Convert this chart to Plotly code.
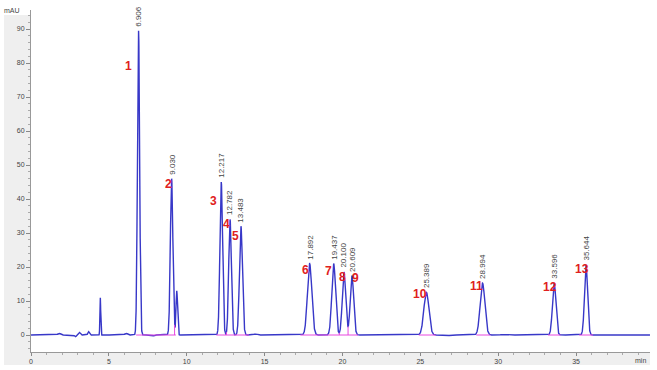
import numpy as np
import plotly.graph_objects as go

# Labelled peaks (retention time, height mAU, width sigma min)
peak_rt = [6.906, 9.030, 12.217, 12.782, 13.483, 17.892, 19.437, 20.100, 20.609, 25.389, 28.994, 33.596, 35.644]
peak_h = [89.5, 46.0, 45.0, 34.0, 32.0, 21.0, 21.0, 18.5, 17.5, 12.6, 15.3, 15.3, 20.6]
peak_w = [0.07, 0.08, 0.085, 0.085, 0.095, 0.14, 0.12, 0.11, 0.11, 0.16, 0.15, 0.11, 0.1]
peak_num = ["1", "2", "3", "4", "5", "6", "7", "8", "9", "10", "11", "12", "13"]
# position of red peak numbers (time, mAU)
num_x = [6.26, 8.84, 11.74, 12.58, 13.1, 17.6, 19.1, 20.0, 20.84, 24.97, 28.6, 33.3, 35.4]
num_y = [79, 44.4, 39.4, 32.6, 29, 19, 18.8, 17, 16.8, 12, 14.4, 14, 19.4]

# unlabelled small peaks / disturbances
minor_rt = [1.8, 2.85, 3.1, 3.7, 4.45, 6.1, 7.9, 9.36, 14.4, 26.6, 30.4]
minor_h = [0.5, -0.5, 0.8, 1.0, 11.0, 0.5, -0.3, 13.0, 0.3, -0.3, 0.2]
minor_w = [0.08, 0.05, 0.06, 0.05, 0.025, 0.08, 0.04, 0.05, 0.1, 0.2, 0.2]

# integration baseline windows (start, end) and drop-line times
base_start = [6.75, 11.9, 17.3, 24.9, 28.6, 33.2, 35.2]
base_end = [9.3, 14.0, 21.0, 26.0, 29.5, 34.0, 36.1]
drop_t = [9.22, 12.55, 13.15, 19.8, 20.36]

t = np.arange(0, 39.75, 0.004)
y = np.zeros_like(t)
for rt, h, w in zip(peak_rt + minor_rt, peak_h + minor_h, peak_w + minor_w):
    y += h * np.exp(-0.5 * ((t - rt) / w) ** 2)

fig = go.Figure()
fig.add_trace(go.Scatter(x=t, y=y, mode="lines", line=dict(color="#3838c8", width=1.4),
                         hoverinfo="skip"))
# integration baselines (drawn on top, as in the reference)
for s, e in zip(base_start, base_end):
    fig.add_trace(go.Scatter(x=[s, e], y=[0, 0], mode="lines",
                             line=dict(color="#e848e0", width=1), hoverinfo="skip"))
for d in drop_t:
    fig.add_trace(go.Scatter(x=[d, d], y=[0, float(np.interp(d, t, y))], mode="lines",
                             line=dict(color="#e848e0", width=1), hoverinfo="skip"))

ann = []
for rt, h in zip(peak_rt, peak_h):
    ann.append(dict(x=rt, y=h, text=f"{rt:.3f}", textangle=-90, showarrow=False,
                    xanchor="center", yanchor="bottom", yshift=2,
                    font=dict(size=8, color="#444", family="Arial")))
for n, nx, ny in zip(peak_num, num_x, num_y):
    ann.append(dict(x=nx, y=ny, text=f"<b>{n}</b>", showarrow=False,
                    xanchor="center", yanchor="middle",
                    font=dict(size=12, color="#e02020", family="Arial")))
ann.append(dict(x=-0.015, y=1.0, xref="paper", yref="paper", text="mAU", showarrow=False,
                xanchor="right", yanchor="bottom", yshift=-6,
                font=dict(size=7, color="#444", family="Arial")))
ann.append(dict(x=0.985, y=0, xref="paper", yref="paper", text="min", showarrow=False,
                xanchor="center", yanchor="top", yshift=-3,
                font=dict(size=7, color="#444", family="Arial")))

shapes = [
    dict(type="rect", xref="paper", yref="paper", x0=-27 / 619, x1=0, y0=-13 / 342, y1=1 - 5 / 342,
         fillcolor="#efefef", line=dict(width=0), layer="below"),
    dict(type="rect", xref="paper", yref="paper", x0=-27 / 619, x1=1.0, y0=-13 / 342, y1=0,
         fillcolor="#efefef", line=dict(width=0), layer="below"),
]

fig.update_layout(
    width=657, height=370, showlegend=False,
    margin=dict(l=31, r=7, t=10, b=18),
    paper_bgcolor="white", plot_bgcolor="white",
    annotations=ann, shapes=shapes,
    xaxis=dict(range=[0, 39.75], tickvals=[0, 5, 10, 15, 20, 25, 30, 35], automargin=False,
               ticks="outside", ticklen=3, tickcolor="#888", showgrid=False, zeroline=False,
               showline=True, linecolor="#999", linewidth=1,
               tickfont=dict(size=7, color="#444", family="Arial"),
               minor=dict(dtick=1, ticks="outside", ticklen=2, tickcolor="#aaa")),
    yaxis=dict(range=[-5, 95.6], tickvals=[0, 10, 20, 30, 40, 50, 60, 70, 80, 90], automargin=False,
               ticks="outside", ticklen=4, tickcolor="#888", showgrid=False, zeroline=False,
               showline=True, linecolor="#999", linewidth=1,
               tickfont=dict(size=7, color="#444", family="Arial"),
               minor=dict(dtick=2, ticks="outside", ticklen=2, tickcolor="#aaa")),
)

fig.write_html("out.html", config={"displayModeBar": False},
               post_script="document.body.style.margin='0';")
